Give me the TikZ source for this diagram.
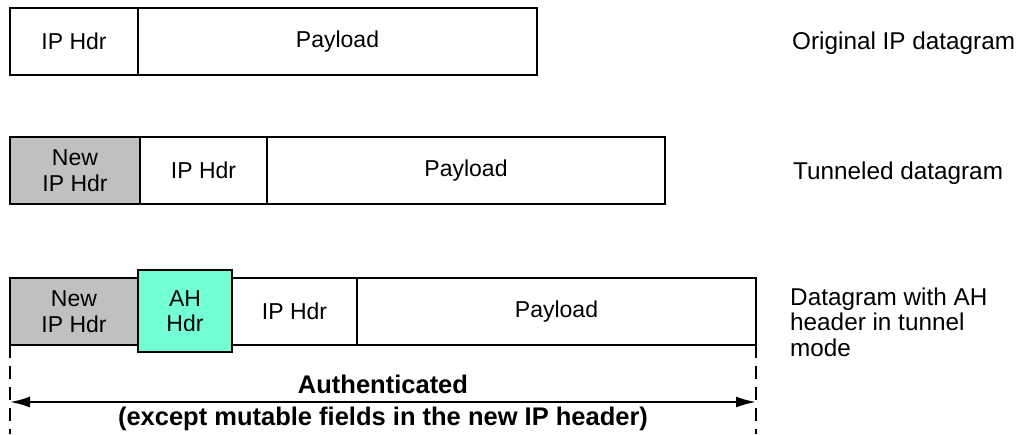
\documentclass[tikz,border=0pt]{standalone}
\usepackage{fontspec}
\setmainfont{Liberation Sans}
\usetikzlibrary{arrows.meta}
\definecolor{hdrgray}{RGB}{192,192,192}
\definecolor{ahgreen}{RGB}{115,255,212}
\begin{document}
\begin{tikzpicture}[x=1pt,y=-1pt,
  cell/.style={draw=black, line width=1.6pt, inner sep=0pt, outer sep=0pt, anchor=north west,
    font=\fontsize{23}{25.5}\selectfont, align=center},
  side/.style={anchor=west, align=left, inner sep=0pt, font=\fontsize{24.3}{25.5}\selectfont},
  bold/.style={inner sep=0pt, font=\fontsize{25.5}{28}\selectfont\bfseries},
  guide/.style={line width=1.3pt, dash pattern=on 13pt off 8pt}]
\useasboundingbox (0,0) rectangle (1025,434);
% Row 1
\node[cell, minimum width=128, minimum height=67] (a1) at (10,8) {IP Hdr};
\node[cell, minimum width=399, minimum height=67] (a2) at (138,8) {Payload};
\node[side] (la) at (792,43) {Original IP datagram};
% Row 2
\node[cell, fill=hdrgray, minimum width=130, minimum height=67] (b1) at (10,137) {New\\IP Hdr};
\node[cell, minimum width=127, minimum height=67] (b2) at (140,137) {IP Hdr};
\node[cell, minimum width=398, minimum height=67] (b3) at (267,137) {Payload};
\node[side] (lb) at (793,173) {Tunneled datagram};
% Row 3
\node[cell, fill=hdrgray, minimum width=128, minimum height=67] (c1) at (10,278) {New\\IP Hdr};
\node[cell, minimum width=125, minimum height=67] (c3) at (232,278) {IP Hdr};
\node[cell, minimum width=399, minimum height=67] (c4) at (357,278) {Payload};
\node[cell, fill=ahgreen, minimum width=94, minimum height=82] (c2) at (138,270) {AH\\Hdr};
\node[side] (lc) at (790,322) {Datagram with AH\\header in tunnel\\mode};
% Authenticated span
\coordinate (dl) at (10,434);
\coordinate (dr) at (756,434);
\draw[guide] (c1.south west) -- (dl);
\draw[guide] (c4.south east) -- (dr);
\coordinate (al) at (10,402);
\coordinate (ar) at (756,402);
\draw[line width=2pt, {Latex[length=20pt,width=11pt]}-{Latex[length=20pt,width=11pt]}] (al) -- (ar);
\node[bold] (t1) at (383,384) {Authenticated};
\node[bold] (t2) at (383,419) {(except mutable fields in the new IP header)};
\end{tikzpicture}
\end{document}
